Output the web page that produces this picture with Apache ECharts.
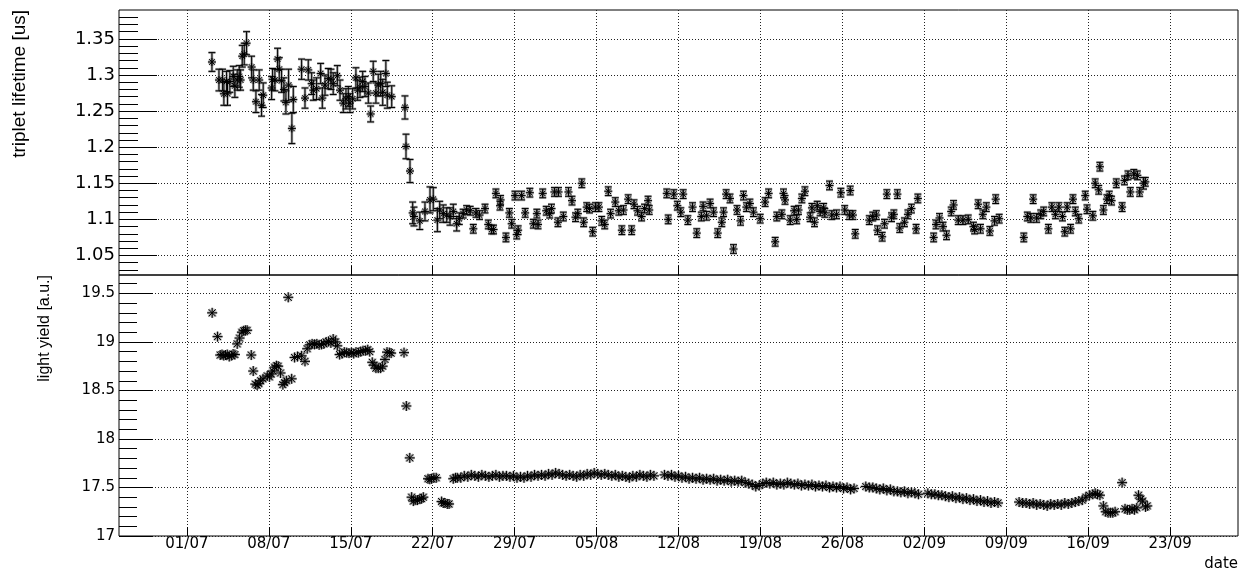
<!DOCTYPE html>
<html>
<head>
<meta charset="utf-8">
<script src="https://cdn.jsdelivr.net/npm/echarts@6/dist/echarts.min.js"></script>
<style>
html, body { margin: 0; padding: 0; background: #fff; }
#chart { width: 1240px; height: 570px; }
</style>
</head>
<body>
<div id="chart"></div>
<script>
// x = days since 01/07
var dateTicks = [0, 7, 14, 21, 28, 35, 42, 49, 56, 63, 70, 77, 84];
var dateLabels = ['01/07', '08/07', '15/07', '22/07', '29/07', '05/08', '12/08', '19/08', '26/08', '02/09', '09/09', '16/09', '23/09'];
var lifetimeTicks = [1.05, 1.1, 1.15, 1.2, 1.25, 1.3, 1.35];
var yieldTicks = [17, 17.5, 18, 18.5, 19, 19.5];

// triplet lifetime [day, value, error]
var lifetimeEarly = [
  [2.14,1.318,0.013],[2.74,1.293,0.015],[3.05,1.293,0.015],[3.16,1.274,0.016],[3.39,1.291,0.014],
  [3.47,1.274,0.016],[3.67,1.291,0.015],[3.96,1.298,0.014],[4.10,1.285,0.016],[4.30,1.293,0.014],
  [4.47,1.298,0.015],[4.59,1.293,0.014],[4.73,1.326,0.015],[4.90,1.329,0.015],[5.10,1.344,0.016],
  [5.53,1.311,0.015],[5.67,1.293,0.014],[5.90,1.263,0.015],[6.18,1.293,0.014],[6.38,1.258,0.015],
  [6.52,1.272,0.017],[7.24,1.282,0.016],[7.32,1.294,0.015],[7.52,1.293,0.015],[7.75,1.322,0.015],
  [7.89,1.308,0.016],[8.09,1.292,0.016],[8.29,1.280,0.016],[8.46,1.262,0.016],[8.69,1.286,0.022],
  [8.97,1.226,0.021],[9.09,1.266,0.018],[9.80,1.308,0.014],[10.09,1.268,0.014],[10.37,1.307,0.014],
  [10.66,1.288,0.015],[10.80,1.279,0.014],[11.08,1.281,0.015],[11.43,1.302,0.014],[11.57,1.268,0.014],
  [11.80,1.286,0.014],[12.08,1.295,0.014],[12.31,1.294,0.014],[12.50,1.288,0.015],[12.85,1.299,0.014],
  [13.08,1.279,0.014],[13.36,1.261,0.013],[13.59,1.267,0.014],[13.79,1.270,0.014],[13.93,1.261,0.013],
  [14.16,1.267,0.014],[14.44,1.296,0.014],[14.59,1.279,0.014],[14.79,1.283,0.014],[15.02,1.291,0.014],
  [15.21,1.284,0.014],[15.50,1.275,0.014],[15.70,1.246,0.011],[15.92,1.305,0.014],[16.15,1.275,0.014],
  [16.35,1.286,0.015],[16.56,1.288,0.017],[16.73,1.276,0.018],[17.00,1.302,0.018],[17.12,1.272,0.018],
  [17.50,1.270,0.015],[18.63,1.255,0.016],[18.72,1.201,0.017],[19.06,1.167,0.016],[19.29,1.109,0.015],
  [19.40,1.104,0.013],[19.90,1.098,0.012],[20.34,1.111,0.013],[20.77,1.127,0.018],[21.05,1.128,0.016],
  [21.40,1.099,0.016],[21.60,1.113,0.012],[21.90,1.108,0.012],[22.20,1.106,0.010],[22.48,1.104,0.012],
  [22.76,1.111,0.010],[23.05,1.094,0.010],[23.27,1.101,0.008]
];
var lifetimeLate = [
  [23.60,1.108,.006],[23.90,1.113,.006],[24.20,1.112,.006],[24.47,1.087,.006],[24.70,1.109,.006],
  [25.00,1.106,.006],[25.47,1.115,.006],[25.75,1.093,.006],[26.04,1.086,.006],[26.20,1.086,.006],
  [26.40,1.136,.006],[26.75,1.119,.006],[26.80,1.127,.006],[27.26,1.075,.006],[27.55,1.109,.006],
  [27.75,1.094,.006],[28.03,1.133,.006],[28.18,1.079,.006],[28.30,1.085,.006],[28.60,1.133,.006],
  [28.90,1.109,.006],[29.30,1.137,.006],[29.60,1.094,.006],[29.90,1.108,.006],[30.00,1.093,.006],
  [30.40,1.136,.006],[30.70,1.112,.006],[31.00,1.108,.006],[31.15,1.115,.006],[31.40,1.138,.006],
  [31.70,1.096,.006],[31.75,1.138,.006],[32.16,1.104,.006],[32.60,1.138,.006],[32.90,1.126,.006],
  [33.20,1.103,.006],[33.40,1.108,.006],[33.74,1.150,.006],[33.90,1.096,.006],[34.16,1.117,.006],
  [34.40,1.115,.006],[34.67,1.083,.006],[34.90,1.117,.006],[35.20,1.117,.006],[35.44,1.098,.006],
  [35.70,1.093,.006],[36.00,1.139,.006],[36.20,1.108,.006],[36.60,1.124,.006],[36.90,1.112,.006],
  [37.16,1.085,.006],[37.30,1.113,.006],[37.70,1.128,.006],[38.00,1.085,.006],[38.20,1.121,.006],
  [38.50,1.112,.006],[38.85,1.104,.006],[39.10,1.115,.006],[39.40,1.126,.006],[39.50,1.113,.006],
  [41.00,1.136,.006],[41.12,1.100,.006],[41.60,1.135,.006],[41.90,1.119,.006],[42.20,1.110,.006],
  [42.40,1.135,.006],[42.80,1.099,.006],[43.20,1.117,.006],[43.56,1.081,.006],[43.95,1.104,.006],
  [44.10,1.118,.006],[44.40,1.105,.006],[44.70,1.122,.006],[45.00,1.110,.006],[45.35,1.081,.006],
  [45.70,1.096,.006],[45.85,1.110,.006],[46.07,1.135,.006],[46.40,1.129,.006],[46.70,1.059,.006],
  [47.00,1.113,.006],[47.30,1.098,.006],[47.55,1.133,.006],[47.80,1.117,.006],[48.10,1.122,.006],
  [48.40,1.110,.006],[48.98,1.101,.006],[49.40,1.124,.006],[49.70,1.136,.006],[50.26,1.069,.006],
  [50.40,1.104,.006],[50.83,1.107,.006],[50.97,1.136,.006],[51.10,1.127,.006],[51.54,1.099,.006],
  [51.88,1.112,.006],[52.10,1.100,.006],[52.25,1.113,.006],[52.54,1.129,.006],[52.80,1.139,.006],
  [53.25,1.103,.006],[53.40,1.116,.006],[53.62,1.096,.006],[53.85,1.119,.006],[54.10,1.111,.006],
  [54.40,1.116,.006],[54.50,1.109,.006],[54.90,1.147,.006],[55.10,1.106,.006],[55.50,1.107,.006],
  [55.87,1.137,.006],[56.20,1.113,.006],[56.60,1.106,.006],[56.67,1.140,.006],[56.90,1.106,.006],
  [57.10,1.080,.006],[58.30,1.099,.006],[58.60,1.104,.006],[58.90,1.106,.006],[59.00,1.085,.006],
  [59.40,1.076,.006],[59.60,1.094,.006],[59.80,1.135,.006],[60.20,1.103,.006],[60.40,1.107,.006],
  [60.70,1.135,.006],[60.90,1.088,.006],[61.30,1.096,.006],[61.60,1.107,.006],[61.90,1.115,.006],
  [62.30,1.087,.006],[62.45,1.129,.006],[63.80,1.075,.006],[64.00,1.093,.006],[64.30,1.102,.006],
  [64.60,1.090,.006],[64.90,1.078,.006],[65.30,1.111,.006],[65.50,1.120,.006],[65.90,1.099,.006],
  [66.30,1.099,.006],[66.75,1.100,.006],[67.20,1.090,.006],[67.30,1.086,.006],[67.60,1.121,.006],
  [67.80,1.087,.006],[68.00,1.107,.006],[68.30,1.117,.006],[68.60,1.084,.006],[69.00,1.098,.006],
  [69.10,1.128,.006],[69.40,1.101,.006],[71.50,1.075,.006],[71.80,1.104,.006],[72.10,1.102,.006],
  [72.30,1.128,.006],[72.60,1.102,.006],[72.95,1.107,.006],[73.20,1.111,.006],[73.60,1.087,.006],
  [73.90,1.117,.006],[74.20,1.107,.006],[74.50,1.117,.006],[74.80,1.104,.006],[75.00,1.083,.006],
  [75.20,1.117,.006],[75.50,1.087,.006],[75.70,1.128,.006],[75.90,1.111,.006],[76.20,1.101,.006],
  [76.75,1.133,.006],[76.90,1.114,.006],[77.40,1.105,.006],[77.60,1.150,.006],[77.90,1.141,.006],
  [78.00,1.173,.006],[78.30,1.113,.006],[78.60,1.128,.006],[78.80,1.133,.006],[79.00,1.126,.006],
  [79.40,1.150,.006],[79.90,1.117,.006],[80.10,1.154,.006],[80.40,1.161,.006],[80.60,1.138,.006],
  [80.90,1.163,.006],[81.20,1.161,.006],[81.40,1.138,.006],[81.73,1.150,.008],[81.88,1.152,.006]
];

// light yield [day, value], sparse parts
var yieldEarly = [
  [2.16,19.30],[2.62,19.055],[2.85,18.865],[3.00,18.87],[3.15,18.86],[3.30,18.865],[3.45,18.87],
  [3.62,18.85],[3.80,18.86],[3.95,18.875],[4.10,18.87],[4.30,18.98],[4.50,19.04],[4.70,19.10],
  [4.85,19.115],[5.00,19.12],[5.15,19.12],[5.50,18.865],[5.67,18.70],[5.85,18.565],[6.00,18.555],
  [6.15,18.57],[6.30,18.60],[6.50,18.62],[6.87,18.65],[7.05,18.64],[7.20,18.67],[7.35,18.70],
  [7.50,18.74],[7.65,18.755],[7.80,18.75],[8.00,18.68],[8.20,18.56],[8.35,18.58],[8.50,18.60],
  [8.66,19.46],[8.95,18.62],[9.20,18.84],[9.45,18.85],[9.80,18.857],[10.09,18.80],[10.28,18.93],
  [10.50,18.97],[10.70,18.98],[10.90,18.975],[11.10,18.98],[11.30,18.97],[11.50,18.975],[11.70,18.98],
  [11.90,19.00],[12.10,19.005],[12.30,18.99],[12.50,19.03],[12.70,19.00],[12.85,18.96],[13.05,18.87],
  [13.25,18.88],[13.45,18.895],[13.65,18.89],[13.85,18.885],[14.05,18.89],[14.25,18.88],[14.45,18.895],
  [14.65,18.89],[14.85,18.90],[15.05,18.91],[15.25,18.91],[15.45,18.92],[15.62,18.90],[15.84,18.79],
  [16.00,18.76],[16.15,18.73],[16.35,18.73],[16.55,18.73],[16.72,18.75],[16.92,18.82],[17.10,18.895],
  [17.30,18.89],[17.45,18.885],[18.55,18.89],[18.75,18.34],[19.04,17.805],[19.20,17.40],[19.35,17.36],
  [19.50,17.37],[19.70,17.37],[19.90,17.38],[20.05,17.385],[20.20,17.40],[20.60,17.59],[20.75,17.585],
  [20.90,17.59],[21.10,17.60],[21.30,17.60],[21.76,17.355],[21.90,17.34],[22.05,17.34],[22.25,17.33],
  [22.40,17.33],[22.76,17.59],[22.95,17.60],[23.10,17.60]
];
var yieldLate = [
  [77.40,17.43],[77.60,17.44],[77.80,17.43],[78.00,17.42],[78.30,17.31],[78.50,17.25],[78.70,17.24],
  [78.90,17.24],[79.10,17.24],[79.30,17.25],[79.90,17.55],[80.15,17.28],[80.35,17.27],[80.55,17.27],
  [80.75,17.28],[80.95,17.27],[81.15,17.29],[81.30,17.42],[81.50,17.38],[81.65,17.36],[81.90,17.30],
  [82.05,17.31]
];
// light yield dense runs: one reading every 0.3 day from the start day
var runStep = 0.3;
var yieldRunA = [17.60,17.62,17.61,17.63,17.62,17.61,17.63,17.62,17.61,17.62,17.63,17.61,17.62,17.62,
  17.61,17.62,17.60,17.61,17.60,17.62,17.61,17.63,17.62,17.63,17.62,17.64,17.63,17.65,17.64,17.63,
  17.62,17.63,17.62,17.61,17.63,17.62,17.64,17.63,17.65,17.64,17.63,17.64,17.63,17.62,17.63,17.61,
  17.62,17.61,17.60,17.62,17.61,17.63,17.62,17.61,17.63,17.62];
var yieldRunB = [17.63,17.62,17.63,17.61,17.62,17.60,17.61,17.59,17.60,17.59,17.60,17.58,17.59,17.58,
  17.59,17.57,17.58,17.57,17.58,17.56,17.57,17.56,17.57,17.55,17.54,17.53,17.51,17.52,17.54,17.55,
  17.54,17.55,17.53,17.54,17.53,17.55,17.54,17.53,17.54,17.52,17.53,17.52,17.53,17.51,17.52,17.51,
  17.52,17.50,17.51,17.50,17.51,17.49,17.50,17.48,17.49];
var yieldRunC = [17.51,17.50,17.50,17.49,17.48,17.49,17.47,17.48,17.46,17.46,17.45,17.46,17.44,17.45,17.44,17.43];
var yieldRunD = [17.44,17.43,17.43,17.42,17.42,17.41,17.40,17.41,17.39,17.40,17.38,17.39,17.37,17.38,
  17.36,17.37,17.35,17.36,17.34,17.35,17.34];
var yieldRunE = [17.35,17.34,17.34,17.33,17.34,17.32,17.33,17.32,17.31,17.33,17.32,17.33,17.32,17.34,
  17.33,17.34,17.35,17.36,17.37,17.40,17.42];
var yieldRunStarts = [23.4, 40.8, 58.0, 63.3, 71.1];

function runPoints(start, vals) {
  return vals.map(function (v, i) { return [start + i * runStep, v]; });
}
var yieldData = yieldEarly
  .concat(runPoints(yieldRunStarts[0], yieldRunA))
  .concat(runPoints(yieldRunStarts[1], yieldRunB))
  .concat(runPoints(yieldRunStarts[2], yieldRunC))
  .concat(runPoints(yieldRunStarts[3], yieldRunD))
  .concat(runPoints(yieldRunStarts[4], yieldRunE))
  .concat(yieldLate);
var lifetimeData = lifetimeEarly.concat(lifetimeLate);

// minor ticks
var lifetimeMinor = [], yieldMinor = [];
for (var k = 103; k <= 138; k++) if (k % 5) lifetimeMinor.push(k / 100);
for (var k = 171; k <= 196; k++) if (k % 5) yieldMinor.push(k / 10);

// asterisk marker (ROOT style 3) with optional error bar
function starItem(r, halo) {
  return function (params, api) {
    var x = api.value(0), y = api.value(1), e = api.value(2);
    var c = api.coord([x, y]);
    var st = halo ? { stroke: '#a8a8a8', lineWidth: 2.6 } : { stroke: '#000', lineWidth: 1 };
    var kids = [];
    function seg(x1, y1, x2, y2) {
      kids.push({ type: 'line', shape: { x1: x1, y1: y1, x2: x2, y2: y2 }, style: st });
    }
    if (e > 0) {
      var hi = api.coord([x, y + e])[1], lo = api.coord([x, y - e])[1];
      seg(c[0], hi, c[0], lo);
      seg(c[0] - 3.5, hi, c[0] + 3.5, hi);
      seg(c[0] - 3.5, lo, c[0] + 3.5, lo);
    }
    var d = r * 0.7;
    seg(c[0] - r, c[1], c[0] + r, c[1]);
    seg(c[0], c[1] - r, c[0], c[1] + r);
    seg(c[0] - d, c[1] - d, c[0] + d, c[1] + d);
    seg(c[0] - d, c[1] + d, c[0] + d, c[1] - d);
    return { type: 'group', children: kids };
  };
}

var dotted = { type: [1, 2], color: '#222', width: 1 };
var tickFont = 'DejaVu Sans';

function xAxisFor(grid, withLabels) {
  return {
    type: 'value', gridIndex: grid, min: -5.8, max: 89.8, position: 'bottom',
    axisLine: { show: false, onZero: false },
    axisTick: { show: true, inside: true, length: 9, customValues: dateTicks, lineStyle: { color: '#000' } },
    axisLabel: {
      show: withLabels, customValues: dateTicks, margin: 1, color: '#000',
      fontFamily: tickFont, fontSize: 15,
      formatter: function (v) { return dateLabels[dateTicks.indexOf(Math.round(v))]; }
    },
    splitLine: { show: true, lineStyle: dotted }
  };
}
function yMajor(grid, min, max, ticks, fs, len) {
  return {
    type: 'value', gridIndex: grid, min: min, max: max, position: 'left',
    axisLine: { show: false, onZero: false },
    axisTick: { show: true, inside: true, length: len, customValues: ticks, lineStyle: { color: '#000' } },
    axisLabel: {
      customValues: ticks, margin: 4, color: '#000', fontFamily: tickFont, fontSize: fs,
      formatter: function (v) { return String(+v.toFixed(3)); }
    },
    splitLine: { show: true, lineStyle: dotted }
  };
}
function yMinor(grid, min, max, ticks, len) {
  return {
    type: 'value', gridIndex: grid, min: min, max: max, position: 'left',
    axisLine: { show: false, onZero: false },
    axisTick: { show: true, inside: true, length: len, customValues: ticks, lineStyle: { color: '#000' } },
    axisLabel: { show: false },
    splitLine: { show: false }
  };
}

var chart = echarts.init(document.getElementById('chart'));
chart.setOption({
  backgroundColor: '#fff',
  animation: false,
  grid: [
    { left: 119, right: 2, top: 10, height: 265, show: true, borderColor: '#000', borderWidth: 1 },
    { left: 119, right: 2, top: 275, height: 261, show: true, borderColor: '#000', borderWidth: 1 }
  ],
  xAxis: [xAxisFor(0, false), xAxisFor(1, true)],
  yAxis: [
    yMajor(0, 1.023, 1.39, lifetimeTicks, 18, 38),
    yMinor(0, 1.023, 1.39, lifetimeMinor, 19),
    yMajor(1, 17, 19.69, yieldTicks, 15, 34),
    yMinor(1, 17, 19.69, yieldMinor, 18)
  ],
  graphic: [
    { type: 'text', x: 10, y: 10, rotation: Math.PI / 2,
      style: { text: 'triplet lifetime [us]', fill: '#000', font: '19px "Liberation Sans"', align: 'right', verticalAlign: 'top' } },
    { type: 'text', x: 37, y: 275, rotation: Math.PI / 2,
      style: { text: 'light yield [a.u.]', fill: '#000', font: '16px "Liberation Sans"', align: 'right', verticalAlign: 'top' } },
    { type: 'text', x: 1238, y: 557,
      style: { text: 'date', fill: '#000', font: '15px "DejaVu Sans"', align: 'right', verticalAlign: 'top' } }
  ],
  series: [
    { type: 'custom', xAxisIndex: 0, yAxisIndex: 0, data: lifetimeData, encode: { x: 0, y: 1 }, renderItem: starItem(4, true), z: 2 },
    { type: 'custom', xAxisIndex: 0, yAxisIndex: 0, data: lifetimeData, encode: { x: 0, y: 1 }, renderItem: starItem(4, false), z: 3 },
    { type: 'custom', xAxisIndex: 1, yAxisIndex: 2, data: yieldData, encode: { x: 0, y: 1 }, renderItem: starItem(5, true), z: 2 },
    { type: 'custom', xAxisIndex: 1, yAxisIndex: 2, data: yieldData, encode: { x: 0, y: 1 }, renderItem: starItem(5, false), z: 3 }
  ]
});
window.addEventListener('resize', function () { chart.resize(); });
</script>
</body>
</html>
